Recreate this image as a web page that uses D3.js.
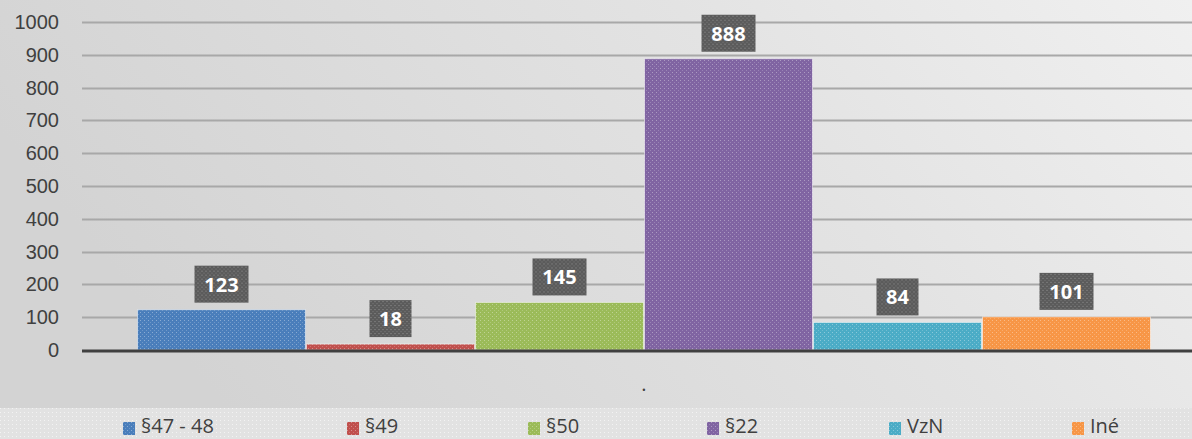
<!DOCTYPE html>
<html>
<head>
<meta charset="utf-8">
<script src="https://cdn.jsdelivr.net/npm/d3@7"></script>
<style>
  html, body { margin: 0; padding: 0; background: #e6e6e6; }
  svg { display: block; font-family: "Open Sans", "Noto Sans", "DejaVu Sans", sans-serif; }
</style>
</head>
<body>
<svg id="chart"></svg>
<script>
// données du graphique
const category = ".";
const seriesNames = ["§47 - 48", "§49", "§50", "§22", "VzN", "Iné"];
const seriesValues = [123, 18, 145, 888, 84, 101];
const seriesColors = ["#4a7ebb", "#c0504d", "#9bbb59", "#8064a2", "#4bacc6", "#f79646"];
const yTicks = [0, 100, 200, 300, 400, 500, 600, 700, 800, 900, 1000];

const W = 1192, H = 439;
const svg = d3.select("#chart").attr("width", W).attr("height", H);
const defs = svg.append("defs");

// fond en dégradé
const grad = defs.append("linearGradient").attr("id", "bg").attr("x1", "0").attr("y1", "0.3").attr("x2", "1").attr("y2", "0");
grad.append("stop").attr("offset", "0").attr("stop-color", "#d3d3d3");
grad.append("stop").attr("offset", "0.6").attr("stop-color", "#e3e3e3");
grad.append("stop").attr("offset", "1").attr("stop-color", "#f0f0f0");
svg.append("rect").attr("width", W).attr("height", H).attr("fill", "url(#bg)");

// motif de trame pour les barres
function makePattern(id, color) {
  const p = defs.append("pattern").attr("id", id).attr("patternUnits", "userSpaceOnUse")
    .attr("width", 4).attr("height", 4);
  p.append("rect").attr("width", 4).attr("height", 4).attr("fill", color);
  p.append("rect").attr("x", 0).attr("y", 0).attr("width", 1).attr("height", 1).attr("fill", "#fff").attr("opacity", 0.35);
  p.append("rect").attr("x", 2).attr("y", 2).attr("width", 1).attr("height", 1).attr("fill", "#fff").attr("opacity", 0.2);
}
seriesColors.forEach((c, i) => makePattern("pat" + i, c));
makePattern("patLabel", "#5b5b5b");
const lp = defs.append("pattern").attr("id", "patLegend").attr("patternUnits", "userSpaceOnUse")
  .attr("width", 4).attr("height", 4);
lp.append("rect").attr("width", 4).attr("height", 4).attr("fill", "#e2e2e2");
lp.append("rect").attr("width", 1).attr("height", 1).attr("fill", "#fff").attr("opacity", 0.6);

const margin = { left: 82, right: 0, top: 22, bottom: 89 };
const plotRight = W;
const yScale = d3.scaleLinear().domain([0, 1000]).range([350, 22]);
const xScale = d3.scaleBand().domain(seriesNames).range([137, 1151]).padding(0);

// grille
svg.append("g").selectAll("line").data(yTicks.filter(t => t > 0)).enter().append("line")
  .attr("x1", margin.left).attr("x2", plotRight)
  .attr("y1", d => Math.round(yScale(d)) + 0.5).attr("y2", d => Math.round(yScale(d)) + 0.5)
  .attr("stroke", "#a8a8a8").attr("stroke-width", 2);

// axe Y (libellés seulement)
const yAxis = svg.append("g").attr("transform", `translate(${margin.left},0)`)
  .call(d3.axisLeft(yScale).tickValues(yTicks).tickFormat(d3.format("d")).tickSize(0).tickPadding(23));
yAxis.select(".domain").remove();
yAxis.selectAll("text").attr("fill", "#404040").style("font-size", "20px");

// barres
const data = seriesNames.map((n, i) => ({ name: n, value: seriesValues[i], i }));
svg.append("g").selectAll("rect").data(data).enter().append("rect")
  .attr("x", d => xScale(d.name) + 0.5)
  .attr("width", xScale.bandwidth() - 1)
  .attr("y", d => yScale(d.value))
  .attr("height", d => yScale(0) - yScale(d.value))
  .attr("fill", d => `url(#pat${d.i})`)
  .attr("stroke", "#ffffff").attr("stroke-opacity", 0.5).attr("stroke-width", 1);

// axe X
svg.append("line").attr("x1", margin.left).attr("x2", plotRight)
  .attr("y1", yScale(0) + 1).attr("y2", yScale(0) + 1)
  .attr("stroke", "#404040").attr("stroke-width", 3);

svg.append("text").attr("x", (xScale.range()[0] + xScale.range()[1]) / 2).attr("y", 391)
  .attr("text-anchor", "middle").attr("fill", "#404040").style("font-size", "20px").text(category);

// étiquettes de valeurs
const labels = svg.append("g").selectAll("g").data(data).enter().append("g")
  .attr("transform", d => `translate(${xScale(d.name) + xScale.bandwidth() / 2},${yScale(d.value) - 7})`);
labels.append("rect")
  .attr("x", d => d.value >= 100 ? -27 : -21).attr("width", d => d.value >= 100 ? 54 : 42)
  .attr("y", -37).attr("height", 37)
  .attr("fill", "url(#patLabel)");
labels.append("text").attr("y", -11).attr("text-anchor", "middle")
  .attr("fill", "#ffffff").style("font-size", "20px").style("font-weight", "bold")
  .text(d => d.value);

// légende
svg.append("rect").attr("x", 0).attr("y", 408).attr("width", W).attr("height", H - 408).attr("fill", "url(#patLegend)");
const legendX = [123, 347, 528, 707, 889, 1072];
const legend = svg.append("g").selectAll("g").data(data).enter().append("g")
  .attr("transform", d => `translate(${legendX[d.i]},426)`);
legend.append("rect").attr("x", 0).attr("y", -4).attr("width", 12).attr("height", 13)
  .attr("fill", d => `url(#pat${d.i})`);
legend.append("text").attr("x", 18).attr("y", 7).attr("fill", "#404040")
  .style("font-size", "20px").text(d => d.name);
</script>
</body>
</html>
